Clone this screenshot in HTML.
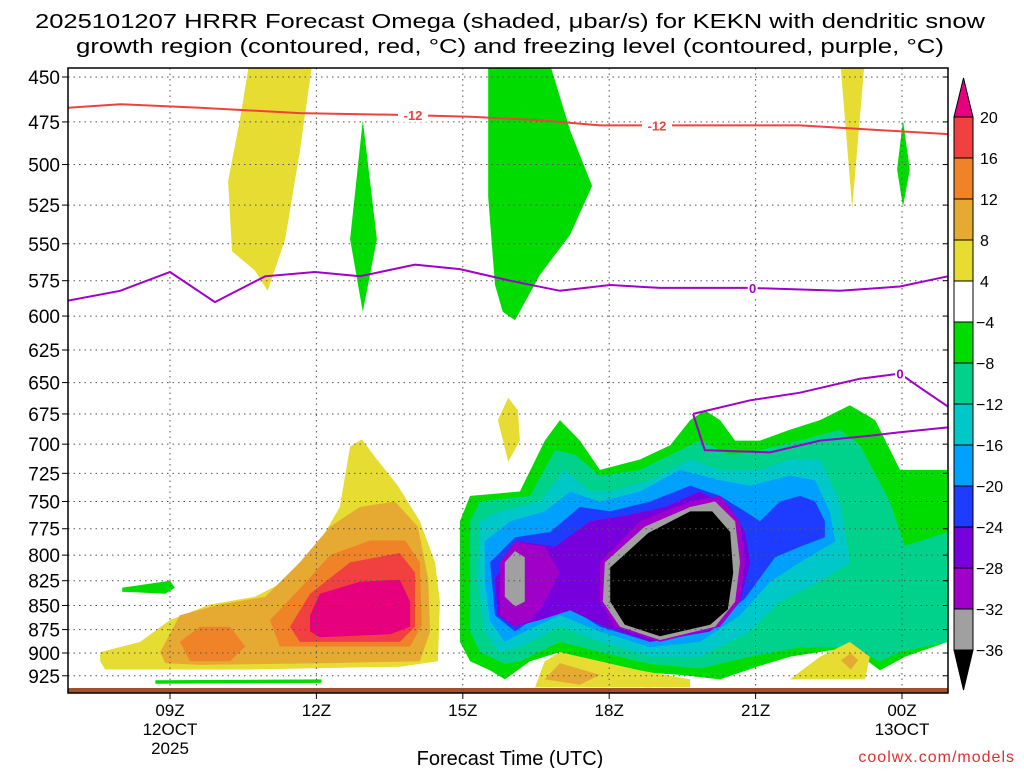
<!DOCTYPE html>
<html><head><meta charset="utf-8"><style>
body{margin:0;background:#fff;width:1024px;height:768px;overflow:hidden;font-family:"Liberation Sans",sans-serif}
svg text{font-family:"Liberation Sans",sans-serif}
</style></head><body>
<svg id="chart" width="1024" height="768" xmlns="http://www.w3.org/2000/svg">
<text x="510" y="28" font-size="20" text-anchor="middle" textLength="950" lengthAdjust="spacingAndGlyphs" fill="#000">2025101207 HRRR Forecast Omega (shaded, μbar/s) for KEKN with dendritic snow</text>
<text x="510" y="53" font-size="20" text-anchor="middle" textLength="868" lengthAdjust="spacingAndGlyphs" fill="#000">growth region (contoured, red, °C) and freezing level (contoured, purple, °C)</text>
<defs><clipPath id="plotclip"><rect x="68" y="68" width="880" height="625"/></clipPath></defs>
<g id="fills" clip-path="url(#plotclip)"></g>
<g id="grid"></g>
<g id="lines" clip-path="url(#plotclip)"></g>
<rect x="68" y="68" width="880" height="625" fill="none" stroke="#000" stroke-width="1.5"/>
<g id="axes"></g>
<g id="cbar"></g>
<text x="510" y="765" font-size="20" text-anchor="middle">Forecast Time (UTC)</text>
<text x="1015" y="762" font-size="16" text-anchor="end" fill="#e03030" letter-spacing="1">coolwx.com/models</text>
</svg>
<script>
// data
const pressureTicks=[450,475,500,525,550,575,600,625,650,675,700,725,750,775,800,825,850,875,900,925];
const timeTickHours=[0,3,6,9,12,15];
const timeTickLabels=["09Z","12Z","15Z","18Z","21Z","00Z"];
const levelBounds=[20,16,12,8,4,-4,-8,-12,-16,-20,-24,-28,-32,-36];
const levelColors=["#e6007e","#f04040","#f08228","#e6aa32","#e6dc32","#ffffff","#00dc00","#00d28c","#00c8c8","#00a0ff","#1e3cff","#7800dc","#a000c8","#a0a0a0","#000000"];
// shaded regions: [colorIndex, [[hour from 09Z, pressure],...]]
const regions=[
[4,[[1.19,510],[1.43,474],[1.64,440],[2.93,440],[2.66,492],[2.36,547],[2.0,582],[1.74,568],[1.27,555]]],
[6,[[3.95,474],[4.24,547],[3.95,597],[3.69,547]]],
[6,[[6.52,440],[7.75,440],[8.2,480],[8.65,513],[8.2,544],[7.58,571],[7.07,603],[6.82,597],[6.66,578],[6.52,520]]],
[4,[[13.73,440],[14.24,440],[13.98,527]]],
[6,[[15.02,474],[15.16,503],[15.02,526],[14.9,503]]],
[4,[[6.93,662],[7.13,672],[7.17,697],[6.93,715],[6.72,680]]],
[6,[[-0.98,832],[0,825],[0.1,832],[-0.1,838],[-0.98,836]]],
[6,[[-0.3,930],[3.1,929],[3.1,933],[-0.3,934]]],
[4,[[-1.43,899],[-0.61,888],[0,865],[0.82,849],[1.74,841],[2.46,823],[3.07,787],[3.48,755],[3.69,702],[3.93,696],[4.26,714],[4.67,736],[5.12,768],[5.43,807],[5.53,846],[5.49,909],[4.71,915],[1.64,918],[-1.33,918],[-1.43,909]]],
[3,[[-0.2,899],[0.2,860],[1.02,849],[1.95,841],[2.66,807],[3.28,773],[3.89,755],[4.61,750],[5.08,773],[5.29,823],[5.33,877],[5.12,909],[3.28,911],[0.61,913],[-0.1,911]]],
[2,[[0.2,888],[0.61,872],[1.23,872],[1.54,893],[1.23,909],[0.41,909]]],
[2,[[2.05,865],[2.66,833],[3.28,800],[4.1,786],[4.82,786],[5.12,807],[5.16,870],[4.92,893],[3.28,893],[2.25,893]]],
[1,[[2.46,872],[2.87,838],[3.69,807],[4.71,798],[5.02,817],[5.02,872],[4.71,888],[2.66,888]]],
[0,[[2.87,860],[3.07,838],[3.89,826],[4.71,824],[4.92,846],[4.92,872],[4.51,880],[3.07,883],[2.87,877]]],
[6,[[5.94,768],[6.15,745],[7.17,741],[7.68,697],[7.99,680],[8.4,697],[8.81,722],[9.63,713],[10.25,701],[10.66,680],[10.96,672],[11.27,680],[11.58,697],[12.09,697],[12.7,688],[13.32,680],[13.93,668],[14.45,680],[14.96,722],[15.94,722],[15.94,888],[15.06,904],[14.55,919],[13.93,894],[12.7,904],[12.09,914],[11.27,929],[10.45,924],[9.63,921],[8.81,911],[7.99,899],[7.38,909],[6.86,929],[6.56,919],[6.15,909],[5.94,888]]],
[7,[[6.15,768],[6.35,750],[7.38,745],[7.89,705],[8.3,709],[8.81,727],[9.63,722],[10.45,705],[10.86,697],[11.48,709],[12.09,705],[12.91,697],[13.73,688],[14.14,701],[14.75,750],[15.06,791],[15.94,778],[15.94,888],[14.96,899],[14.55,909],[13.93,894],[12.91,894],[11.89,904],[10.86,917],[9.84,912],[8.81,899],[7.99,888],[7.17,909],[6.86,912],[6.35,899],[6.15,877]]],
[8,[[6.35,768],[6.76,759],[7.58,750],[8.09,722],[8.61,741],[9.02,741],[9.84,731],[10.66,713],[11.27,722],[12.09,722],[12.7,713],[13.32,713],[13.73,750],[13.93,807],[13.32,826],[12.5,846],[11.89,877],[10.86,904],[9.84,904],[8.81,888],[7.99,872],[7.17,894],[6.76,899],[6.45,877],[6.31,826]]],
[9,[[6.45,787],[6.97,768],[7.68,759],[8.2,741],[8.81,750],[9.63,741],[10.45,722],[11.27,731],[11.89,736],[12.7,727],[13.22,731],[13.52,759],[13.63,787],[12.91,807],[12.3,826],[11.68,860],[10.86,888],[9.84,894],[8.81,877],[7.99,860],[7.27,877],[6.86,888],[6.56,866],[6.45,826]]],
[10,[[6.56,807],[7.07,783],[7.79,778],[8.4,755],[9.02,759],[9.84,750],[10.66,736],[11.27,745],[11.78,759],[12.09,768],[12.5,750],[12.91,745],[13.22,750],[13.42,768],[13.42,783],[12.91,792],[12.4,802],[11.78,843],[11.07,872],[9.84,888],[8.81,872],[7.99,846],[7.38,866],[7.07,877],[6.66,860]]],
[11,[[6.66,823],[7.17,787],[7.89,792],[8.61,768],[9.32,763],[10.14,755],[10.86,741],[11.48,755],[11.78,778],[11.89,807],[11.68,846],[11.07,877],[9.84,888],[8.91,872],[8.2,855],[7.58,865],[7.07,872],[6.72,860]]],
[12,[[6.76,807],[7.07,787],[7.68,792],[7.99,817],[7.68,846],[7.38,866],[7.07,872],[6.76,860]]],
[12,[[8.81,807],[9.63,768],[10.66,750],[11.27,745],[11.68,768],[11.78,807],[11.68,846],[11.27,872],[10.04,888],[9.12,872],[8.81,846]]],
[13,[[6.86,807],[7.07,796],[7.27,802],[7.27,846],[7.07,851],[6.86,841]]],
[13,[[8.91,807],[9.73,773],[10.66,755],[11.17,750],[11.58,768],[11.68,807],[11.58,846],[11.17,872],[10.04,886],[9.22,872],[8.87,846]]],
[14,[[9.02,812],[9.8,779],[10.66,759],[11.11,759],[11.48,778],[11.54,817],[11.43,854],[11.07,870],[10.04,882],[9.32,870],[9.02,846]]],
[4,[[7.48,938],[7.68,909],[7.99,899],[8.81,909],[9.63,919],[10.66,929],[10.66,938]]],
[3,[[7.68,929],[7.99,911],[8.81,924],[8.4,935]]],
[4,[[12.7,929],[13.32,904],[13.93,888],[14.34,904],[14.24,929]]],
[3,[[13.75,908],[13.95,900],[14.1,908],[13.95,918]]]
];
const redLine=[[-2.09,467],[-1.02,465],[0.61,467],[2.66,470],[4.71,471],[6.15,472],[7.58,474],[8.81,477],[10.86,477],[12.91,477],[15.94,482]];
const purpleLine=[[-2.09,589],[-1.02,582],[0,569],[0.92,590],[1.95,572],[2.97,569],[3.89,572],[5.02,564],[5.94,567],[6.97,575],[7.99,582],[9.02,578],[10.04,580],[11.89,580],[13.73,582],[14.96,579],[15.94,572]];
const purpleUpper=[[10.72,675],[11.89,664],[12.91,658],[14.14,647],[14.96,643],[15.37,654],[15.94,669]];
const purpleLower=[[10.72,675],[10.96,705],[12.3,707],[13.32,697],[14.34,693],[14.96,690],[15.94,686]];
const lineLabels=[["-12",4.98,471,"#f04040"],["-12",9.98,477,"#f04040"],["0",11.94,580,"#a000c8"],["0",14.96,643,"#a000c8"]];

const NS="http://www.w3.org/2000/svg";
function X(h){return 170+48.8*h;}
function Y(p){return 77+831*Math.log(p/450);}
function mk(tag,attrs,parent){const e=document.createElementNS(NS,tag);for(const k in attrs)e.setAttribute(k,attrs[k]);parent.appendChild(e);return e;}
const fills=document.getElementById('fills'),grid=document.getElementById('grid'),lines=document.getElementById('lines'),axes=document.getElementById('axes'),cbar=document.getElementById('cbar');
regions.forEach((r,i)=>{
 const e=mk('polygon',{points:r[1].map(q=>X(q[0]).toFixed(1)+','+Y(q[1]).toFixed(1)).join(' '),fill:levelColors[r[0]]},fills);
 
 
});
const sfc=mk('rect',{x:68,y:688,width:880,height:5,fill:'#a0522d'},fills);


pressureTicks.forEach(p=>{
 const y=Y(p);
 const g=mk('line',{x1:68,x2:948,y1:y,y2:y,stroke:'#555','stroke-dasharray':'1.5,4','stroke-width':1},grid);
 
 
 mk('line',{x1:62,x2:68,y1:y,y2:y,stroke:'#000'},axes);
 const t=mk('text',{x:60,y:y+7,'font-size':19,'text-anchor':'end'},axes);t.textContent=p;
 
 
 mk('line',{x1:943,x2:948,y1:y,y2:y,stroke:'#000'},axes);
});
timeTickHours.forEach((h,i)=>{
 const x=X(h);
 const g=mk('line',{x1:x,x2:x,y1:68,y2:693,stroke:'#555','stroke-dasharray':'1.5,4'},grid);
 
 
 mk('line',{x1:x,x2:x,y1:693,y2:699,stroke:'#000'},axes);
 const t=mk('text',{x:x,y:716,'font-size':17,'text-anchor':'middle'},axes);t.textContent=timeTickLabels[i];
 
 
});
[["12OCT",0,735],["2025",0,754],["13OCT",15,735]].forEach(d=>{
 const t=mk('text',{x:X(d[1]),y:d[2],'font-size':17,'text-anchor':'middle'},axes);t.textContent=d[0];
 
 
});
function pl(pts,color,name){
 const e=mk('polyline',{points:pts.map(q=>X(q[0]).toFixed(1)+','+Y(q[1]).toFixed(1)).join(' '),fill:'none',stroke:color,'stroke-width':2},lines);
 
 
}
pl(redLine,'#f04040','dgz-minus12-contour');
pl(purpleLine,'#a000c8','freezing-level-contour');
pl(purpleUpper,'#a000c8','freezing-level-contour-upper');
pl(purpleLower,'#a000c8','freezing-level-contour-lower');
lineLabels.forEach(l=>{
 const x=X(l[1]),y=Y(l[2]);
 mk('rect',{x:x-(l[0].length*5),y:y-7,width:l[0].length*10,height:14,fill:'#fff'},lines);
 const t=mk('text',{x:x,y:y+5,'font-size':13,'font-weight':'bold','text-anchor':'middle',fill:l[3]},lines);t.textContent=l[0];
 
 
});
// colorbar
const cbTop=117,cbStep=41,cx0=954,cx1=973;
mk('polygon',{points:`${cx0},${cbTop} ${cx1},${cbTop} ${(cx0+cx1)/2},78`,fill:levelColors[0],stroke:'#000'},cbar);
for(let i=1;i<levelColors.length-1;i++){
 const r=mk('rect',{x:cx0,y:cbTop+(i-1)*cbStep,width:cx1-cx0,height:cbStep,fill:levelColors[i],stroke:'#000'},cbar);
 
 
}
const cbBot=cbTop+(levelColors.length-2)*cbStep;
mk('polygon',{points:`${cx0},${cbBot} ${cx1},${cbBot} ${(cx0+cx1)/2},690`,fill:'#000',stroke:'#000'},cbar);
levelBounds.forEach((v,i)=>{
 const t=mk('text',{x:v<0?976:980,y:cbTop+i*cbStep+6,'font-size':16},cbar);
 t.textContent=v<0?'\u2212'+(-v):String(v);
 
 
});
</script>
</body></html>
